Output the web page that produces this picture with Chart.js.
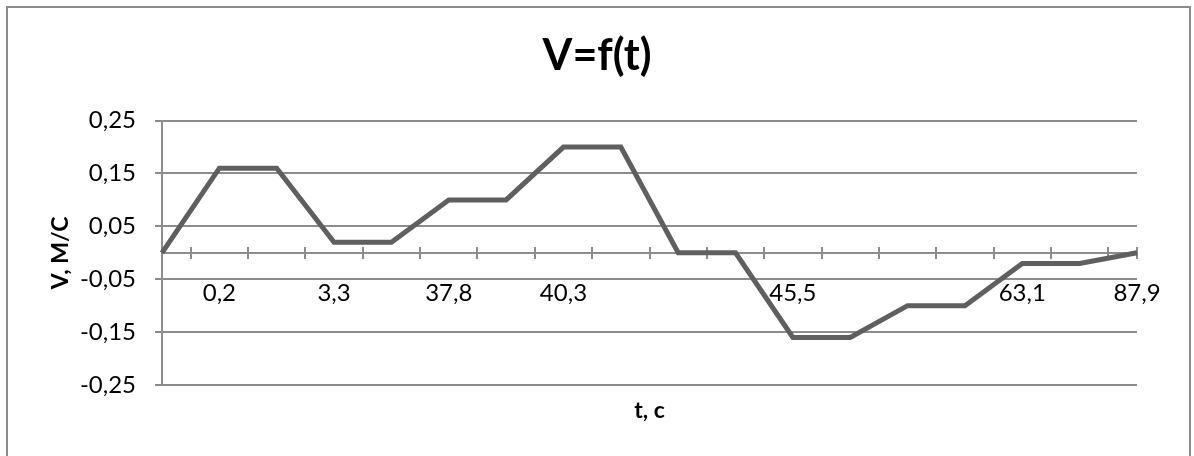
<!DOCTYPE html>
<html>
<head>
<meta charset="utf-8">
<script src="https://cdn.jsdelivr.net/npm/chart.js@4"></script>
<style>
html, body { margin: 0; padding: 0; background: #fff; }
#wrap { position: relative; width: 1194px; height: 456px; overflow: hidden; }
#frame { position: absolute; left: 6px; top: 6px; width: 1185px; height: 480px; border: 2px solid #8c8c8c; box-sizing: border-box; }
canvas { position: absolute; left: 0; top: 0; }
</style>
</head>
<body>
<div id="wrap">
  <div id="frame"></div>
  <canvas id="c" width="1194" height="456"></canvas>
</div>
<script>
// ---- data ----
const categories = ['', '0,2', '', '3,3', '', '37,8', '', '40,3', '', '', '', '45,5', '', '', '', '63,1', '', '87,9'];
const velocity = [0, 0.16, 0.16, 0.02, 0.02, 0.1, 0.1, 0.2, 0.2, 0, 0, -0.16, -0.16, -0.1, -0.1, -0.02, -0.02, 0];
const yTickValues = [-0.25, -0.15, -0.05, 0.05, 0.15, 0.25];
const chartTitle = 'V=f(t)';
const xTitle = 't, c';
const yTitle = 'V, M/C';

const FONT = "Lato, 'Open Sans', sans-serif";
const GRID = '#8c8c8c';
const fmt = v => Number(v).toFixed(2).replace('.', ',');

// x axis line through zero with crossing tick marks between categories
const zeroAxis = {
  id: 'zeroAxis',
  beforeDatasetsDraw(chart) {
    const { ctx, chartArea, scales } = chart;
    const x = scales.x, y = scales.y;
    const y0 = Math.round(y.getPixelForValue(0));
    const n = categories.length;
    ctx.save();
    ctx.strokeStyle = GRID;
    ctx.lineWidth = 2;
    ctx.beginPath();
    ctx.moveTo(chartArea.left, y0);
    ctx.lineTo(chartArea.right, y0);
    for (let i = 0; i < n; i++) {
      const xa = i < n - 1 ? (x.getPixelForValue(i) + x.getPixelForValue(i + 1)) / 2 : x.getPixelForValue(i);
      const xr = Math.round(xa);
      ctx.moveTo(xr, y0 - 6);
      ctx.lineTo(xr, y0 + 6);
    }
    ctx.stroke();
    ctx.restore();
  }
};

new Chart(document.getElementById('c'), {
  type: 'line',
  data: {
    labels: categories,
    datasets: [{
      data: velocity,
      borderColor: '#5f5f5f',
      borderWidth: 5,
      pointRadius: 0,
      pointHoverRadius: 0,
      tension: 0,
      fill: false,
      borderJoinStyle: 'miter',
      borderCapStyle: 'butt'
    }]
  },
  options: {
    responsive: false,
    animation: false,
    layout: { padding: { left: 0, right: 0, top: 0, bottom: 0 } },
    plugins: {
      legend: { display: false },
      tooltip: { enabled: false },
      title: {
        display: true,
        text: chartTitle,
        color: '#000',
        font: { family: FONT, size: 43, weight: 'bold' },
        padding: { top: 30, bottom: 39 }
      }
    },
    scales: {
      x: {
        type: 'category',
        position: { y: 0 },
        offset: false,
        grid: { display: false, drawTicks: false },
        border: { display: false },
        ticks: {
          autoSkip: false, maxRotation: 0, minRotation: 0,
          padding: 26, color: '#000',
          font: { family: FONT, size: 24 }
        }
      },
      x2: {
        type: 'category',
        labels: categories,
        position: 'bottom',
        grid: { display: false },
        border: { display: false },
        ticks: { display: false },
        title: {
          display: true, text: xTitle, color: '#000',
          font: { family: FONT, size: 23, weight: 'bold' },
          padding: { top: 0, bottom: 32 }
        },
        afterFit(s) { s.height = 71; }
      },
      y: {
        type: 'linear',
        min: -0.25,
        max: 0.25,
        afterBuildTicks(s) { s.ticks = yTickValues.map(v => ({ value: v })); },
        ticks: {
          callback: v => fmt(v),
          padding: 19, color: '#000',
          font: { family: FONT, size: 24 }
        },
        grid: { color: GRID, lineWidth: 2, tickLength: 7, drawTicks: true },
        border: { display: true, color: GRID, width: 2 },
        title: {
          display: true, text: yTitle, color: '#000',
          font: { family: FONT, size: 23, weight: 'bold' },
          padding: { top: 47, bottom: 0 }
        },
        afterFit(s) { s.width = 162; }
      },
      y2: {
        type: 'linear',
        position: 'right',
        min: -0.25,
        max: 0.25,
        grid: { display: false },
        border: { display: false },
        ticks: { display: false },
        afterFit(s) { s.width = 57; }
      }
    }
  },
  plugins: [zeroAxis]
});
</script>
</body>
</html>
